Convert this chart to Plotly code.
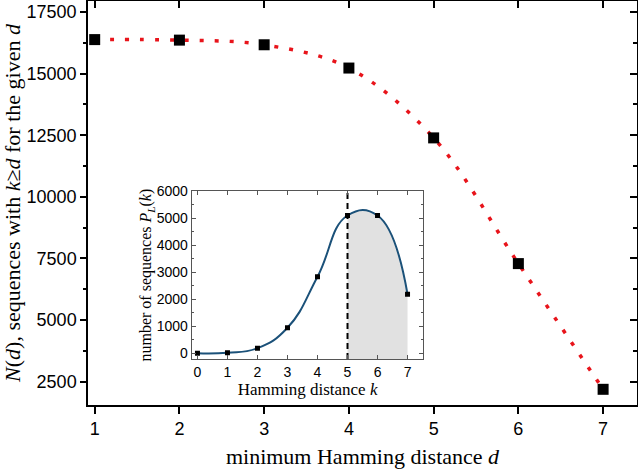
import plotly.graph_objects as go

# main data
d_vals = [1, 2, 3, 4, 5, 6, 7]
N_vals = [16383, 16362, 16173, 15228, 12393, 7290, 2187]
main_yticks = [2500, 5000, 7500, 10000, 12500, 15000, 17500]

# inset data
k_vals = [0, 1, 2, 3, 4, 5, 6, 7]
P_vals = [1, 21, 189, 945, 2835, 5103, 5103, 2187]
inset_yticks = [0, 1000, 2000, 3000, 4000, 5000, 6000]
threshold = 5

XR = [0.921, 7.40]
YR = [1550, 17950]
IXR = [-0.19, 7.53]
IYR = [-210, 6000]

SERIF = "Liberation Serif, Times New Roman, serif"
SANS = "Liberation Sans, Arial, sans-serif"

fig = go.Figure()

# main curve
fig.add_trace(go.Scatter(
    x=d_vals, y=N_vals, mode="lines", line=dict(color="#e8141b", width=3.5, dash="4px,11px", shape="spline"),
    xaxis="x", yaxis="y", showlegend=False, hoverinfo="skip"))
fig.add_trace(go.Scatter(
    x=d_vals, y=N_vals, mode="markers", marker=dict(symbol="square", size=11, color="black"),
    xaxis="x", yaxis="y", showlegend=False))
# mirror axes holder
fig.add_trace(go.Scatter(x=[None], y=[None], xaxis="x3", yaxis="y3", showlegend=False))

# inset: gray fill from baseline
fig.add_trace(go.Scatter(x=[k_vals[0], k_vals[-1]], y=[IYR[0], IYR[0]], mode="lines",
                         line=dict(width=0, color="rgba(0,0,0,0)"), xaxis="x2", yaxis="y2",
                         showlegend=False, hoverinfo="skip"))
fig.add_trace(go.Scatter(x=k_vals, y=P_vals, mode="lines", fill="tonexty", fillcolor="#e1e1e1",
                         line=dict(width=0, shape="spline", smoothing=1.3, color="rgba(0,0,0,0)"),
                         xaxis="x2", yaxis="y2", showlegend=False, hoverinfo="skip"))
# white cover left of threshold
fig.add_trace(go.Scatter(x=[IXR[0], threshold, threshold, IXR[0], IXR[0]],
                         y=[IYR[0], IYR[0], IYR[1], IYR[1], IYR[0]], mode="lines", fill="toself",
                         fillcolor="white", line=dict(width=0, color="white"),
                         xaxis="x2", yaxis="y2", showlegend=False, hoverinfo="skip"))
# dashed threshold line
fig.add_trace(go.Scatter(x=[threshold, threshold], y=[IYR[0], IYR[1]], mode="lines",
                         line=dict(color="black", width=2, dash="6px,4px"),
                         xaxis="x2", yaxis="y2", showlegend=False, hoverinfo="skip"))
# blue curve
fig.add_trace(go.Scatter(x=k_vals, y=P_vals, mode="lines+markers",
                         line=dict(color="#1b5179", width=2, shape="spline", smoothing=1.3),
                         marker=dict(symbol="square", size=5, color="black"),
                         xaxis="x2", yaxis="y2", showlegend=False))

axis_common = dict(showgrid=False, zeroline=False, automargin=False)

fig.update_layout(
    width=638, height=473,
    margin=dict(l=88, r=1, t=1, b=68),
    paper_bgcolor="white", plot_bgcolor="white",
    xaxis=dict(range=XR, domain=[0, 1], tickvals=d_vals, ticks="outside", ticklen=7, tickwidth=1.5,
               tickcolor="black", showline=True, linecolor="black", linewidth=1.5,
               tickfont=dict(family=SANS, size=18, color="black"),
               title=dict(text="minimum Hamming distance <i>d</i>", font=dict(family=SERIF, size=22, color="black"),
                          standoff=10),
               **axis_common),
    yaxis=dict(range=YR, domain=[0, 1], tickvals=main_yticks, ticktext=[str(v) for v in main_yticks],
               ticks="outside", ticklen=6, tickwidth=1.5,
               tickcolor="black", showline=True, linecolor="black", linewidth=1.5,
               minor=dict(ticks="outside", ticklen=3, dtick=1250, tickcolor="black", tickwidth=1.5),
               tickfont=dict(family=SANS, size=18, color="black"),
               title=dict(text="<i>N</i>(<i>d</i>), sequences with <i>k</i>≥<i>d</i> for the given <i>d</i>",
                          font=dict(family=SERIF, size=22, color="black"), standoff=8),
               **axis_common),
    xaxis3=dict(range=XR, overlaying="x", side="top", anchor="y", tickvals=d_vals, ticks="inside",
                ticklen=7, tickwidth=1.5, tickcolor="black", showticklabels=False, showline=True,
                linecolor="black", linewidth=1.5, **axis_common),
    yaxis3=dict(range=YR, overlaying="y", side="right", anchor="x", tickvals=main_yticks, ticks="inside",
                ticklen=7, tickwidth=1.5, tickcolor="black", showticklabels=False, showline=True,
                linecolor="black", linewidth=1.5,
                minor=dict(ticks="inside", ticklen=4, dtick=1250, tickcolor="black", tickwidth=1.5),
                **axis_common),
    xaxis2=dict(range=IXR, domain=[0.189, 0.611], anchor="y2", tickvals=k_vals, ticks="inside", ticklen=4,
                tickcolor="#555", showline=True, linecolor="#555", linewidth=1.2, mirror="ticks",
                tickfont=dict(family=SANS, size=14, color="black"),
                title=dict(text="Hamming distance <i>k</i>", font=dict(family=SERIF, size=17, color="black"),
                           standoff=2),
                **axis_common),
    yaxis2=dict(range=IYR, domain=[0.114, 0.529], anchor="x2", tickvals=inset_yticks, ticks="inside",
                ticklen=4, tickcolor="#555", showline=True, linecolor="#555", linewidth=1.2, mirror="ticks",
                minor=dict(ticks="inside", ticklen=2, dtick=500, tickcolor="#555"),
                tickfont=dict(family=SANS, size=14, color="black"),
                title=dict(text="number of sequences <i>P<sub>L</sub></i>(<i>k</i>)",
                           font=dict(family=SERIF, size=16, color="black"), standoff=0),
                **axis_common),
)

fig.write_html("out.html", config={"displayModeBar": False},
               post_script="document.documentElement.style.margin='0';document.body.style.margin='0';")
